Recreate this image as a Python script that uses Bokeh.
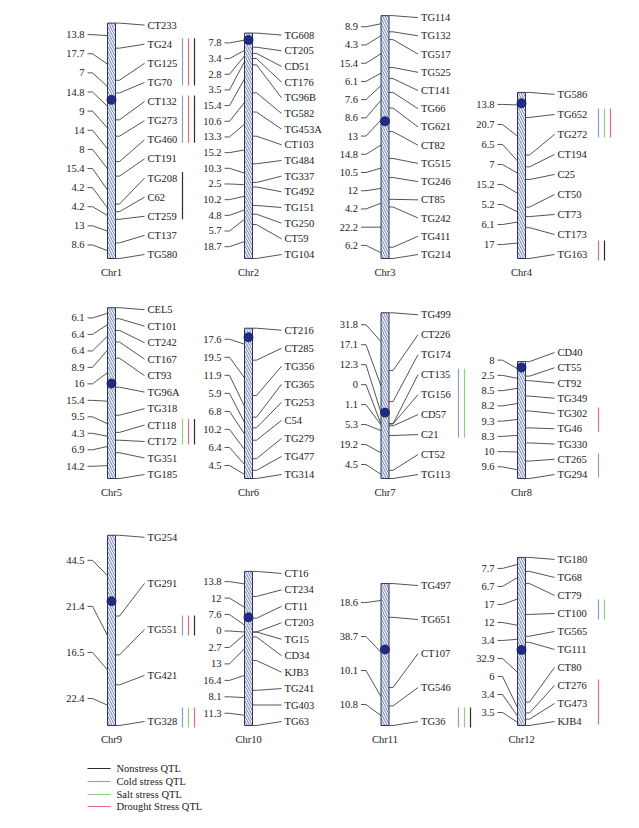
from bokeh.plotting import figure
from bokeh.models import Range1d, ColumnDataSource
from bokeh.core.properties import value
from bokeh.embed import file_html
from bokeh.resources import INLINE

# ---------------- data ----------------
chromosomes = ["Chr1", "Chr2", "Chr3", "Chr4", "Chr5", "Chr6",
               "Chr7", "Chr8", "Chr9", "Chr10", "Chr11", "Chr12"]

markers = {
    "Chr1": ["CT233", "TG24", "TG125", "TG70", "CT132", "TG273", "TG460", "CT191",
             "TG208", "C62", "CT259", "CT137", "TG580"],
    "Chr2": ["TG608", "CT205", "CD51", "CT176", "TG96B", "TG582", "TG453A", "CT103",
             "TG484", "TG337", "TG492", "TG151", "TG250", "CT59", "TG104"],
    "Chr3": ["TG114", "TG132", "TG517", "TG525", "CT141", "TG66", "TG621", "CT82",
             "TG515", "TG246", "CT85", "TG242", "TG411", "TG214"],
    "Chr4": ["TG586", "TG652", "TG272", "CT194", "C25", "CT50", "CT73", "CT173", "TG163"],
    "Chr5": ["CEL5", "CT101", "CT242", "CT167", "CT93", "TG96A", "TG318", "CT118",
             "CT172", "TG351", "TG185"],
    "Chr6": ["CT216", "CT285", "TG356", "TG365", "TG253", "C54", "TG279", "TG477", "TG314"],
    "Chr7": ["TG499", "CT226", "TG174", "CT135", "TG156", "CD57", "C21", "CT52", "TG113"],
    "Chr8": ["CD40", "CT55", "CT92", "TG349", "TG302", "TG46", "TG330", "CT265", "TG294"],
    "Chr9": ["TG254", "TG291", "TG551", "TG421", "TG328"],
    "Chr10": ["CT16", "CT234", "CT11", "CT203", "TG15", "CD34", "KJB3", "TG241",
              "TG403", "TG63"],
    "Chr11": ["TG497", "TG651", "CT107", "TG546", "TG36"],
    "Chr12": ["TG180", "TG68", "CT79", "CT100", "TG565", "TG111", "CT80", "CT276",
              "TG473", "KJB4"],
}

intervals = {
    "Chr1": [13.8, 17.7, 7, 14.8, 9, 14, 8, 15.4, 4.2, 4.2, 13, 8.6],
    "Chr2": [7.8, 3.4, 2.8, 3.5, 15.4, 10.6, 13.3, 15.2, 10.3, 2.5, 10.2, 4.8, 5.7, 18.7],
    "Chr3": [8.9, 4.3, 15.4, 6.1, 7.6, 8.6, 13, 14.8, 10.5, 12, 4.2, 22.2, 6.2],
    "Chr4": [13.8, 20.7, 6.5, 7, 15.2, 5.2, 6.1, 17],
    "Chr5": [6.1, 6.4, 6.4, 8.9, 16, 15.4, 9.5, 4.3, 6.9, 14.2],
    "Chr6": [17.6, 19.5, 11.9, 5.9, 6.8, 10.2, 6.4, 4.5],
    "Chr7": [31.8, 17.1, 12.3, 0, 1.1, 5.3, 19.2, 4.5],
    "Chr8": [8, 2.5, 8.5, 8.2, 9.3, 8.3, 10, 9.6],
    "Chr9": [44.5, 21.4, 16.5, 22.4],
    "Chr10": [13.8, 12, 7.6, 0, 2.7, 13, 16.4, 8.1, 11.3],
    "Chr11": [18.6, 38.7, 10.1, 10.8],
    "Chr12": [7.7, 6.7, 17, 12, 3.4, 32.9, 6, 3.4, 3.5],
}

# centromere position (cM from top)
centromere_cm = {
    "Chr1": 42.3, "Chr2": 3.8, "Chr3": 58.2, "Chr4": 6.0, "Chr5": 41.8, "Chr6": 5.0,
    "Chr7": 55.0, "Chr8": 3.3, "Chr9": 36.3, "Chr10": 25.3, "Chr11": 36.3, "Chr12": 51.0,
}

qtl_types = ["Nonstress QTL", "Cold stress QTL", "Salt stress QTL", "Drought Stress QTL"]
qtl_keys = ["nonstress", "cold", "salt", "drought"]

# (chromosome, first marker, last marker, QTL types in drawing order)
qtl_groups = [
    ("Chr1", "TG24", "TG70", ["cold", "drought", "nonstress"]),
    ("Chr1", "CT132", "TG460", ["cold", "drought", "nonstress"]),
    ("Chr1", "TG208", "CT259", ["nonstress"]),
    ("Chr4", "TG652", "TG272", ["cold", "salt", "drought"]),
    ("Chr4", "TG163", "TG163", ["drought", "nonstress"]),
    ("Chr5", "CT118", "CT172", ["salt", "drought", "nonstress"]),
    ("Chr7", "CT135", "C21", ["cold", "salt"]),
    ("Chr8", "TG302", "TG46", ["drought"]),
    ("Chr8", "CT265", "TG294", ["cold"]),
    ("Chr9", "TG551", "TG551", ["cold", "drought", "nonstress"]),
    ("Chr9", "TG328", "TG328", ["cold", "salt", "drought"]),
    ("Chr11", "TG36", "TG36", ["cold", "salt", "nonstress"]),
    ("Chr12", "CT100", "CT100", ["cold", "salt"]),
    ("Chr12", "CT276", "KJB4", ["drought"]),
]

# ---------------- style / layout ----------------
QCOL = {"nonstress": "#2b2b2b", "cold": "#8b9ec9", "salt": "#8fd07f", "drought": "#e0707e"}
FONT = value("Liberation Serif")
FS = "10.5px"
TXT = "#1a1a1a"
LINE = "#2a2a2a"

col_cx = [111, 248, 384.5, 521]
row_bottom = [258, 478, 725]
qtl_dx = [71, 72, 73.5, 77]
SCALE = 1.815  # px per cM
HALF_W = 4

p = figure(width=623, height=812, x_range=Range1d(0, 623), y_range=Range1d(812, 0),
           output_backend="svg", toolbar_location=None, min_border=0,
           x_axis_location=None, y_axis_location=None)
p.grid.visible = False
p.outline_line_color = None
p.background_fill_color = "white"
p.border_fill_color = "white"

bars = dict(left=[], right=[], top=[], bottom=[])
cen = dict(x=[], y=[])
rt = dict(x=[], y=[], text=[])
lt = dict(x=[], y=[], text=[])
ct = dict(x=[], y=[], text=[])
lines = dict(xs=[], ys=[])
q = dict(xs=[], ys=[], color=[])

for idx, ch in enumerate(chromosomes):
    row, col = divmod(idx, 4)
    cx = col_cx[col]
    bottom = row_bottom[row]
    iv = intervals[ch]
    total = sum(iv)
    top = bottom - total * SCALE
    pos = [0.0]
    for v in iv:
        pos.append(pos[-1] + v)
    my = [top + c * SCALE for c in pos]

    bars["left"].append(cx - HALF_W); bars["right"].append(cx + HALF_W)
    bars["top"].append(top); bars["bottom"].append(bottom)
    cen["x"].append(cx); cen["y"].append(top + centromere_cm[ch] * SCALE)
    ct["x"].append(cx); ct["y"].append(bottom + 14); ct["text"].append(ch)

    names = markers[ch]
    n = len(names)
    last = bottom - 4
    first = top + 2
    s = (last - first) / (n - 1)
    if s < 15.25:
        s = 15.25
        first = last - s * (n - 1)
    slot = [first + i * s for i in range(n)]

    for i, nm in enumerate(names):
        rt["x"].append(cx + 36); rt["y"].append(slot[i]); rt["text"].append(nm)
        lines["xs"].append([cx + HALF_W, cx + 8, cx + 33])
        lines["ys"].append([my[i], my[i], slot[i]])
    for i, v in enumerate(iv):
        yl = (slot[i] + slot[i + 1]) / 2
        ymid = (my[i] + my[i + 1]) / 2
        lt["x"].append(cx - 27); lt["y"].append(yl); lt["text"].append(f"{v:g}")
        lines["xs"].append([cx - 24, cx - 19, cx - HALF_W])
        lines["ys"].append([yl, yl, ymid])

    for (qc, m1, m2, types) in qtl_groups:
        if qc != ch:
            continue
        i1, i2 = names.index(m1), names.index(m2)
        if i1 == i2:
            y1, y2 = slot[i1] - 14, slot[i2] + 6
        else:
            y1, y2 = slot[i1] - 6, slot[i2] + 3
        for k, t in enumerate(types):
            x = cx + qtl_dx[col] + k * 6
            q["xs"].append([x, x]); q["ys"].append([y1, y2]); q["color"].append(QCOL[t])

p.multi_line(xs="xs", ys="ys", source=ColumnDataSource(lines), line_color=LINE, line_width=0.8)
p.quad(left="left", right="right", top="top", bottom="bottom", source=ColumnDataSource(bars),
       fill_color="#f2f5fb", line_color="#2c3560", line_width=1,
       hatch_pattern="left_diagonal_line", hatch_color="#52639a", hatch_scale=5, hatch_weight=0.8)
p.scatter(x="x", y="y", source=ColumnDataSource(cen), size=9, fill_color="#1f2b85",
          line_color="#141c5a", line_width=0.8)
p.multi_line(xs="xs", ys="ys", color="color", source=ColumnDataSource(q), line_width=1.2)

p.text(x="x", y="y", text="text", source=ColumnDataSource(rt), text_font=FONT,
       text_font_size=FS, text_color=TXT, text_align="left", text_baseline="middle")
p.text(x="x", y="y", text="text", source=ColumnDataSource(lt), text_font=FONT,
       text_font_size=FS, text_color=TXT, text_align="right", text_baseline="middle")
p.text(x="x", y="y", text="text", source=ColumnDataSource(ct), text_font=FONT,
       text_font_size=FS, text_color=TXT, text_align="center", text_baseline="middle")

# legend
leg_y = [768, 781, 794, 806]
leg = dict(xs=[[87, 110] for _ in qtl_keys], ys=[[y, y] for y in leg_y],
           color=[QCOL[k] for k in qtl_keys])
p.multi_line(xs="xs", ys="ys", color="color", source=ColumnDataSource(leg), line_width=1.2)
p.text(x=[116] * 4, y=leg_y, text=qtl_types, text_font=FONT, text_font_size=FS,
       text_color=TXT, text_align="left", text_baseline="middle")

open("out.html", "w").write(file_html(p, INLINE))
